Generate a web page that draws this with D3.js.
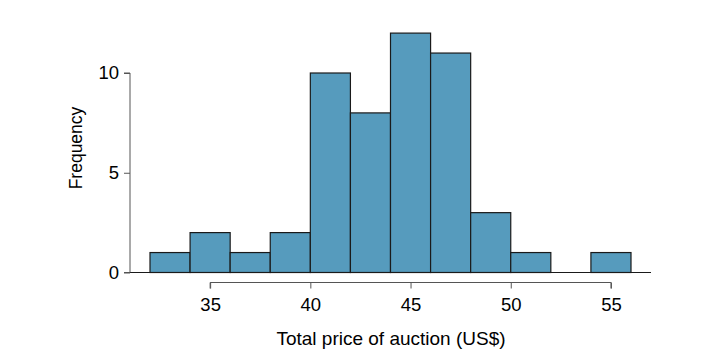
<!DOCTYPE html>
<html>
<head>
<meta charset="utf-8">
<script src="https://cdn.jsdelivr.net/npm/d3@7"></script>
<style>
  body { margin: 0; background: #fff; }
  svg text { font-family: "Liberation Sans", Arial, sans-serif; fill: #000; }
</style>
</head>
<body>
<svg id="chart" width="717" height="362"></svg>
<script>
const binStarts = [32, 34, 36, 38, 40, 42, 44, 46, 48, 50, 52, 54];
const binWidth = 2;
const counts = [1, 2, 1, 2, 10, 8, 12, 11, 3, 1, 0, 1];
const xTicks = [35, 40, 45, 50, 55];
const yTicks = [0, 5, 10];

const svg = d3.select("#chart");

// 20 px per dollar, 32 -> 150
const x = d3.scaleLinear().domain([32, 56]).range([150, 631]);
const y = d3.scaleLinear().domain([0, 10]).range([272.5, 73]);

const axisColor = "#555";

// bars
svg.selectAll(".bar")
    .data(binStarts)
    .enter().append("rect")
    .attr("class", "bar")
    .attr("x", d => x(d))
    .attr("y", (d, i) => y(counts[i]))
    .attr("width", d => x(d + binWidth) - x(d))
    .attr("height", (d, i) => y(0) - y(counts[i]))
    .attr("fill", "#569BBD")
    .attr("stroke", "#1a1a1a")
    .attr("stroke-width", 1.2);

// baseline under histogram
svg.append("line")
    .attr("x1", 130).attr("x2", 651)
    .attr("y1", y(0)).attr("y2", y(0))
    .attr("stroke", "#1a1a1a").attr("stroke-width", 1.2);

// x axis
const xAxis = svg.append("g")
    .attr("transform", "translate(0,282.5)")
    .call(d3.axisBottom(x).tickValues(xTicks).tickSize(6).tickPadding(9));
xAxis.select(".domain").attr("d", `M${x(35)},6V0H${x(55)}V6`).attr("stroke", axisColor);
xAxis.selectAll(".tick line").attr("stroke", axisColor);
xAxis.selectAll("text").attr("font-size", 18.5).attr("fill", "#000");

// y axis
const yAxis = svg.append("g")
    .attr("transform", "translate(130,0)")
    .call(d3.axisLeft(y).tickValues(yTicks).tickSize(6).tickPadding(5));
yAxis.select(".domain").attr("d", `M-6,${y(10)}H0V${y(0)}H-6`).attr("stroke", axisColor);
yAxis.selectAll(".tick line").attr("stroke", axisColor);
yAxis.selectAll("text").attr("font-size", 18.5).attr("fill", "#000");

// axis titles
svg.append("text")
    .attr("x", 391).attr("y", 345)
    .attr("text-anchor", "middle")
    .attr("font-size", 19)
    .text("Total price of auction (US$)");

svg.append("text")
    .attr("transform", "translate(82,148) rotate(-90)")
    .attr("text-anchor", "middle")
    .attr("font-size", 17.5)
    .text("Frequency");
</script>
</body>
</html>
